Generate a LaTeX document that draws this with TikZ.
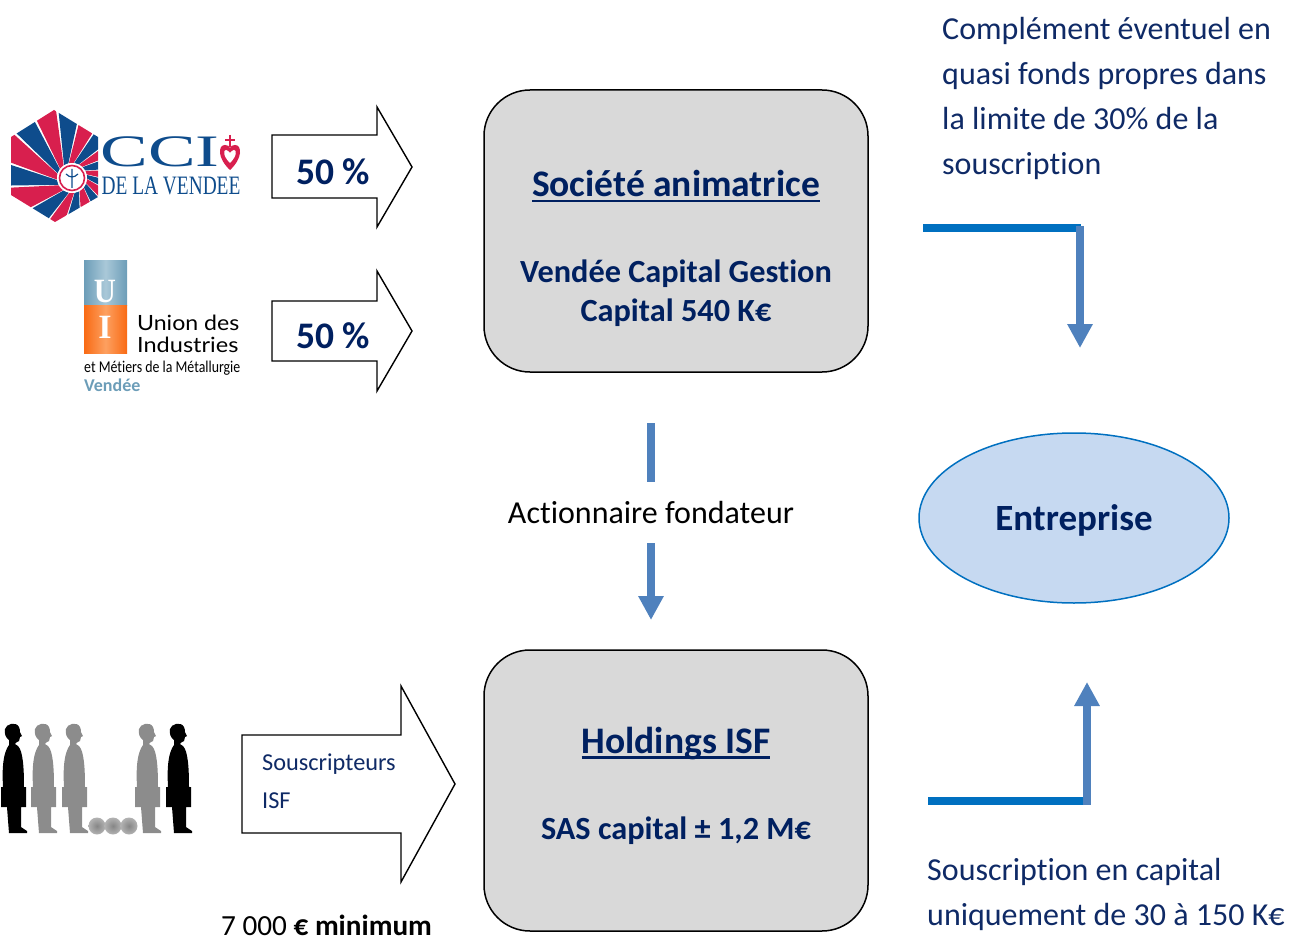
\documentclass[tikz,border=0pt]{standalone}
\usepackage{fontspec}
\setmainfont[RawFeature=-liga]{Carlito}
\newfontfamily\logoserif{Liberation Serif}
\newfontfamily\logosans{Lato}
\usetikzlibrary{arrows.meta,shapes.geometric}
\definecolor{navy}{HTML}{002060}
\definecolor{textblue}{HTML}{0F2A66}
\definecolor{boxgray}{HTML}{D9D9D9}
\definecolor{ellfill}{HTML}{C6D9F1}
\definecolor{ellline}{HTML}{0070C0}
\definecolor{armblue}{HTML}{4F81BD}
\definecolor{barblue}{HTML}{0070C0}
\definecolor{cciblue}{HTML}{0E4C8C}
\definecolor{ccired}{HTML}{D81F4E}
\definecolor{uiblue}{HTML}{6C9DB8}
\definecolor{uilight}{HTML}{A9C8D8}
\definecolor{uiorange}{HTML}{F96A14}
\definecolor{uiolight}{HTML}{FDA060}
\newcommand{\fs}[1]{\fontsize{#1}{#1}\selectfont}
\newcommand{\thickul}[1]{\setbox0\hbox{#1}\copy0\llap{\rule[-5.5pt]{\wd0}{2.4pt}}}
\newcommand{\person}[2]{%
  \fill[#2,shift={(#1,723)}]
    (-7,6) .. controls (-6,1) and (4,-2) .. (7,4)
    .. controls (8,6) and (8,8) .. (8,9) -- (10,13) -- (8,14) -- (7,18)
    .. controls (5,20) and (3,19) .. (3,21) -- (6,23)
    .. controls (11,28) and (12,45) .. (12,64) -- (14,64) -- (14,84) -- (9,84)
    -- (9,104) -- (15,108) -- (15,110) -- (-3,110) -- (-5,84) -- (-11,84) -- (-11,64) -- (-9,64)
    .. controls (-10,45) and (-9,30) .. (-3,22) -- (-3,17)
    .. controls (-6,15) and (-8,11) .. (-7,6) -- cycle;}
\tikzset{
  roundbox/.style={draw=black,line width=1.5pt,fill=boxgray,rounded corners=46pt},
  blockarrow/.style={draw=black,line width=1.4pt,fill=white,line join=miter},
  flowshaft/.style={draw=armblue,line width=8pt},
  flowhead/.style={draw=armblue,line width=8pt,-{Triangle[length=24pt,width=24pt,color=armblue]}},
  flowbar/.style={draw=barblue,line width=8pt},
  boxtitle/.style={text=navy,font=\fs{37.5}\bfseries,inner sep=0pt,anchor=base},
  boxline/.style={text=navy,font=\fs{32.3}\bfseries,inner sep=0pt},
  pct/.style={text=navy,font=\fs{37.5}\bfseries,inner sep=0pt},
  note/.style={text=textblue,font=\fs{32},inner sep=0pt,anchor=base west},
  plain/.style={text=black,font=\fs{32},inner sep=0pt},
}
\begin{document}
\begin{tikzpicture}[x=1pt,y=-1pt]
\useasboundingbox (0,0) rectangle (1303,941);

% CCI logo
\begin{scope}
  \clip (54,110) -- (98,137) -- (98,197) -- (55,222) -- (11,195) -- (11,137) -- cycle;
  \foreach \c/\a/\b in {
    cciblue/-172/-153, ccired/-151/-129, cciblue/-127/-109, ccired/-107/-89,
    cciblue/-87/-69, ccired/-67/-49, cciblue/-47/-29, ccired/-27/-13,
    cciblue/-11/5, ccired/7/21, cciblue/23/37, ccired/39/55,
    cciblue/57/73, ccired/75/95, cciblue/97/115, ccired/117/135,
    cciblue/137/159, ccired/161/186}
  { \fill[\c] ({72+15*cos(\a-35)},{178+15*sin(\a-35)}) -- ({72+120*cos(\a-12)},{178+120*sin(\a-12)})
      -- ({72+120*cos(\b-12)},{178+120*sin(\b-12)}) -- ({72+15*cos(\b-35)},{178+15*sin(\b-35)}) -- cycle; }
\end{scope}
\fill[white] (72,178) circle (15);
\draw[ccired,line width=1.6pt] (72,178) circle (12.5);
\draw[cciblue,line width=1.2pt] (72,169) -- (72,188) (66,174) .. controls (70,178) and (74,178) .. (78,174);
\node[inner sep=0pt,text=cciblue,font=\logoserif\fs{30}] (ccitxt) at (160,152) {\scalebox{2.38}[1.5]{CCI}};
\node[inner sep=0pt,text=cciblue,font=\logoserif\fs{19}] (ccisub) at (171,186) {\scalebox{1.02}[1.4]{DE LA VENDEE}};
\fill[ccired] (230,170) .. controls (217,158) and (218,145) .. (225,145) .. controls (228,145) and (229,146) .. (230,148) .. controls (231,146) and (232,145) .. (235,145) .. controls (242,145) and (243,158) .. (230,170) -- cycle;
\fill[white] (230,163) .. controls (223,156) and (223,150) .. (226,150) .. controls (228,150) and (229,152) .. (230,153) .. controls (231,152) and (232,150) .. (234,150) .. controls (237,150) and (237,156) .. (230,163) -- cycle;
\draw[ccired,line width=2pt] (230,135) -- (230,147) (225,140) -- (235,140);

% UI logo
\shade[left color=uiblue,right color=uiblue,middle color=uilight] (84,261) rectangle (127,305);
\shade[left color=uiorange,right color=uiorange,middle color=uiolight] (84,305) rectangle (127,353);
\node[inner sep=0pt,text=white,font=\logoserif\bfseries\fs{34}] (uiu) at (105,292) {\scalebox{0.9}[1]{U}};
\node[inner sep=0pt,text=white,font=\logoserif\bfseries\fs{34}] (uii) at (105,327) {I};
\node[inner sep=0pt,anchor=base west,font=\logosans\fs{21}] (uia) at (137,330) {\scalebox{1.1}[1]{Union des}};
\node[inner sep=0pt,anchor=base west,font=\logosans\fs{21}] (uib) at (137,352) {\scalebox{1.12}[1]{Industries}};
\node[inner sep=0pt,anchor=base west,font=\fs{16.5}] (uic) at (84,372) {\scalebox{0.84}[1]{et Métiers de la Métallurgie}};
\node[inner sep=0pt,anchor=base west,text=uiblue,font=\bfseries\fs{18}] (uid) at (84,391) {Vendée};

% people
\person{12}{black}
\person{42}{gray!90}
\person{73}{gray!90}
\person{146}{gray!90}
\person{177}{black}
\foreach \x in {97,113,129} \shade[inner color=gray!95,outer color=gray!60] (\x,826) circle (8.5);

% block arrows
\draw[blockarrow] (272,135) -- (377,135) -- (377,107) -- (412,167) -- (377,227) -- (377,198) -- (272,198) -- cycle;
\draw[blockarrow] (272,301) -- (377,301) -- (377,271) -- (412,331) -- (377,391) -- (377,361) -- (272,361) -- cycle;
\draw[blockarrow] (242,735) -- (401,735) -- (401,686) -- (455,784) -- (401,882) -- (401,833) -- (242,833) -- cycle;
\node[pct] (p1) at (333,172) {50 \%};
\node[pct] (p2) at (333,336) {50 \%};
\node[note,font=\fs{24.3}] (s1) at (262,770) {Souscripteurs};
\node[note,font=\fs{24.3}] (s2) at (262,808) {ISF};
\node[plain,anchor=base west,font=\fs{29.2}] (min) at (221,935.5) {7 000 \textbf{€ minimum}};

% boxes
\draw[roundbox] (484,90) rectangle (868,372);
\draw[roundbox] (484,650) rectangle (868,931);
\node[boxtitle] (t1) at (676,197) {\thickul{Société animatrice}};
\node[boxline] (t2) at (676,273.5) {Vendée Capital Gestion};
\node[boxline] (t3) at (676,312.5) {Capital 540 K€};
\node[boxtitle] (t4) at (676,753) {\thickul{Holdings ISF}};
\node[boxline] (t5) at (676,830.5) {SAS capital ± 1,2 M€};

% enterprise
\node[ellipse,draw=ellline,line width=1.5pt,fill=ellfill,minimum width=310pt,minimum height=170pt,inner sep=0pt] (ent) at (1074,518) {};
\node[text=navy,font=\fs{37}\bfseries,inner sep=0pt] (entl) at (1074,520) {Entreprise};

% centre connector
\node[plain] (act) at (651,513) {Actionnaire fondateur};
\coordinate (c1) at (651,423);
\coordinate (c2) at (651,482);
\coordinate (c3) at (651,543);
\coordinate (c4) at (651,620);
\draw[flowshaft] (c1) -- (c2);
\draw[flowhead] (c3) -- (c4);

% right connectors
\coordinate (a1) at (923,228);
\coordinate (a2) at (1081,228);
\coordinate (a3) at (1080,226);
\coordinate (a4) at (1080,348);
\draw[flowbar] (a1) -- (a2);
\draw[flowhead] (a3) -- (a4);
\coordinate (b1) at (928,801);
\coordinate (b2) at (1086,801);
\coordinate (b3) at (1087,805);
\coordinate (b4) at (1087,682);
\draw[flowbar] (b1) -- (b2);
\draw[flowhead] (b3) -- (b4);

% notes
\node[note] (n1) at (942,40) {Complément éventuel en};
\node[note] (n2) at (942,85) {quasi fonds propres dans};
\node[note] (n3) at (942,130) {la limite de 30\% de la};
\node[note] (n4) at (942,175) {souscription};
\node[note] (n5) at (927,880) {Souscription en capital};
\node[note] (n6) at (927,925) {uniquement de 30 à 150 K€};
\end{tikzpicture}
\end{document}
